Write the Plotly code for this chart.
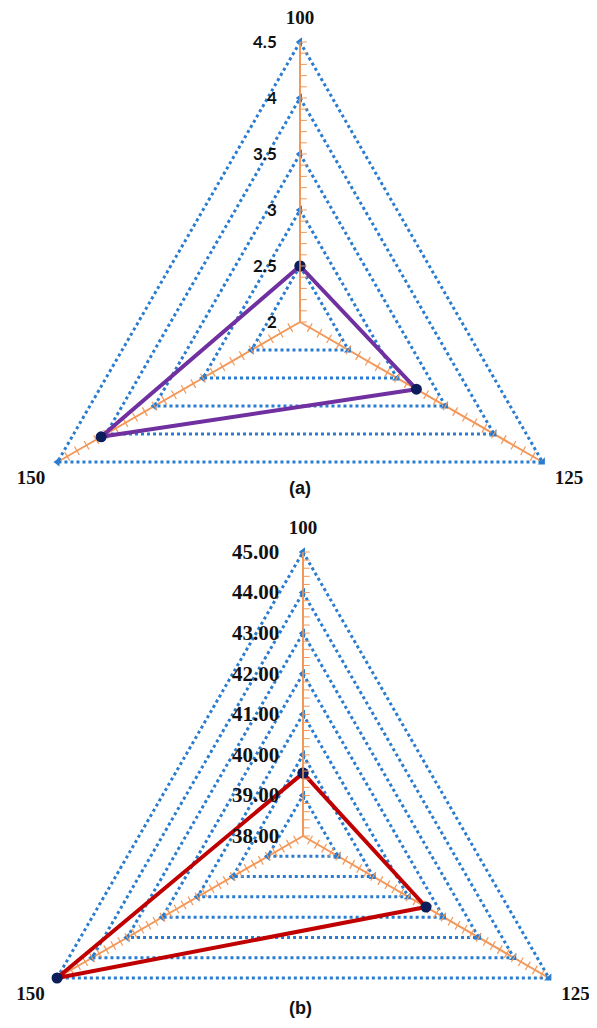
import numpy as np
import plotly.graph_objects as go

categories = ["100", "125", "150"]

# panel (a)
values_a = [2.5, 3.2, 4.05]
labels_a = [2, 2.5, 3, 3.5, 4, 4.5]
text_a = ["2", "2.5", "3", "3.5", "4", "4.5"]

# panel (b)
values_b = [39.55, 41.5, 45.0]
labels_b = [38, 39, 40, 41, 42, 43, 44, 45]
text_b = ["38.00", "39.00", "40.00", "41.00", "42.00", "43.00", "44.00", "45.00"]

BLUE = "#2a7ccf"
ORANGE = "#f2985a"
# page body has an 8px margin; the figure runs past the bottom of the window
OFF = 8
W, H = 589, 1200

fig = go.Figure()


def add_radar(subplot, values, labels, minor_step, line_color):
    closed = categories + categories[:1]
    # dotted triangular grid with little arrow heads at the corners
    for v in labels[1:]:
        fig.add_trace(go.Scatterpolar(
            r=[v] * 4, theta=closed, subplot=subplot, mode="lines+markers",
            hoverinfo="skip", showlegend=False, cliponaxis=False,
            line=dict(color=BLUE, width=3, dash="dot"),
            marker=dict(symbol=["triangle-left", "triangle-se", "triangle-left", "triangle-left"],
                        size=8, color=BLUE)))
    # minor tick marks along the two lower spokes
    minor_r = np.arange(labels[0] + minor_step, labels[-1] + minor_step / 2, minor_step)
    for cat, ang in (("125", 30), ("150", -30)):
        fig.add_trace(go.Scatterpolar(
            r=minor_r, theta=[cat] * len(minor_r), subplot=subplot, mode="markers",
            hoverinfo="skip", showlegend=False, cliponaxis=False,
            marker=dict(symbol="line-ns", angle=ang, size=7, color=ORANGE,
                        line=dict(color=ORANGE, width=1.2))))
    fig.add_trace(go.Scatterpolar(
        r=values + values[:1], theta=closed, subplot=subplot, mode="lines+markers",
        cliponaxis=False, showlegend=False,
        line=dict(color=line_color, width=4),
        marker=dict(color="#0b1e5b", size=11)))


def polar_layout(cx, cy, rad, rng, labels, text, minor_step, tickfont, pad):
    cx, cy = cx - OFF, cy - OFF
    xd = [(cx - rad) / W, (cx + rad) / W]
    yd = [1 - (cy + rad) / H, 1 - (cy - rad) / H]
    vals = np.round(np.arange(rng[0], rng[1] + minor_step / 2, minor_step), 4)
    # labels only on the major values, padded away from the axis line
    txt = [text[labels.index(v)] + "\u00a0" * pad if v in labels else "" for v in vals]
    return dict(
        domain=dict(x=xd, y=yd),
        bgcolor="rgba(0,0,0,0)",
        angularaxis=dict(type="category", categoryarray=categories, rotation=90,
                         direction="clockwise", showline=False, showgrid=True,
                         gridcolor=ORANGE, gridwidth=1.5, ticks="outside", ticklen=10,
                         tickcolor="rgba(0,0,0,0)",
                         tickfont=dict(family="Liberation Serif", size=19, color="#111",
                                       weight="bold")),
        radialaxis=dict(range=rng, angle=90, side="counterclockwise", showgrid=False,
                        showline=True, linecolor=ORANGE, linewidth=1.5,
                        tickmode="array", tickvals=list(vals), ticktext=txt,
                        ticks="inside", ticklen=6, tickcolor=ORANGE, tickwidth=1.2,
                        tickangle=90, tickfont=tickfont),
    )


add_radar("polar", values_a, labels_a, 0.1, "#7030a0")
add_radar("polar2", values_b, labels_b, 0.2, "#c00000")

cap_font = dict(family="Liberation Sans", size=18, color="#111", weight="bold")
fig.update_layout(
    width=W, height=H,
    margin=dict(l=0, r=0, t=0, b=0),
    paper_bgcolor="white",
    polar=polar_layout(300, 322, 280, [2, 4.5], labels_a, text_a, 0.1,
                       dict(family="Lato", size=17, color="#111", weight="bold"), 4),
    polar2=polar_layout(303, 836, 284, [38, 45], labels_b, text_b, 0.2,
                        dict(family="Liberation Serif", size=21, color="#111", weight="bold"), 3),
    annotations=[
        dict(text="(a)", x=(300 - OFF) / W, y=1 - (488 - OFF) / H, xref="paper", yref="paper",
             yanchor="middle", showarrow=False, font=cap_font),
        dict(text="(b)", x=(300 - OFF) / W, y=1 - (1008 - OFF) / H, xref="paper", yref="paper",
             yanchor="middle", showarrow=False, font=cap_font),
    ],
)

fig.write_html("out.html")
